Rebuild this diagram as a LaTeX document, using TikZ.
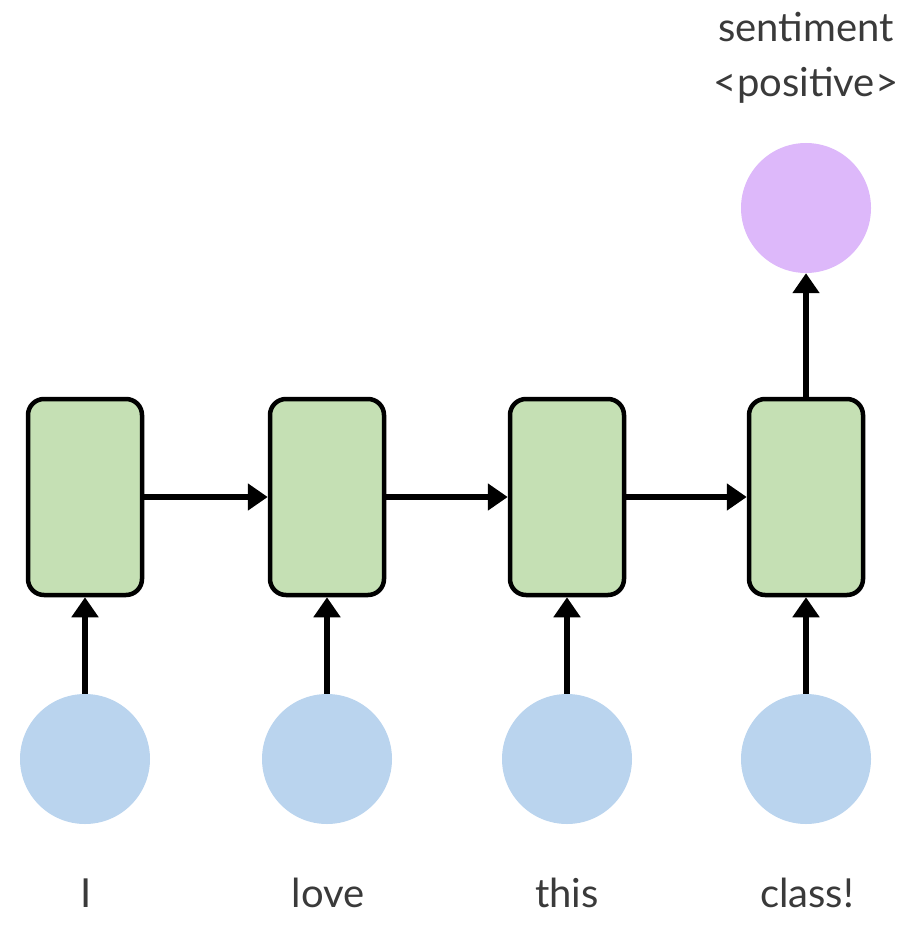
\documentclass[tikz,border=0pt]{standalone}
\usepackage{fontspec}
\setmainfont{Lato}
\usetikzlibrary{arrows.meta}
\definecolor{cellgreen}{HTML}{C5E0B4}
\definecolor{inblue}{HTML}{BAD4EE}
\definecolor{outpurple}{HTML}{DDB8FA}
\definecolor{txtgray}{HTML}{3A3A3A}
\tikzset{
  cell/.style={draw=black, line width=4.5pt, fill=cellgreen, rounded corners=16pt,
    minimum width=114pt, minimum height=196pt, inner sep=0pt},
  inp/.style={circle, fill=inblue, minimum size=130pt, inner sep=0pt},
  outp/.style={circle, fill=outpurple, minimum size=130pt, inner sep=0pt},
  conn/.style={line width=6pt, -{Triangle[length=20pt,width=26pt]}},
  word/.style={text=txtgray, font=\fontsize{40}{48}\selectfont, anchor=base, inner sep=0pt}
}
\begin{document}
\begin{tikzpicture}[x=1pt,y=-1pt]
\useasboundingbox (0,0) rectangle (920,925);
\node[cell] (c1) at (85,497) {};
\node[cell] (c2) at (327,497) {};
\node[cell] (c3) at (567,497) {};
\node[cell] (c4) at (806,497) {};
\node[inp] (i1) at (85,759) {};
\node[inp] (i2) at (327,759) {};
\node[inp] (i3) at (567,759) {};
\node[inp] (i4) at (806,759) {};
\node[outp] (o) at (806,208) {};
\node[word] (w1) at (86,907) {I};
\node[word] (w2) at (328,907) {love};
\node[word] (w3) at (567,907) {this};
\node[word] (w4) at (807,907) {class!};
\node[word] (s1) at (806,42) {sentiment};
\node[word] (s2) at (806,97) {<positive>};
\draw[conn] (c1.east) -- (c2.west);
\draw[conn] (c2.east) -- (c3.west);
\draw[conn] (c3.east) -- (c4.west);
\draw[conn] (i1.north) -- (c1.south);
\draw[conn] (i2.north) -- (c2.south);
\draw[conn] (i3.north) -- (c3.south);
\draw[conn] (i4.north) -- (c4.south);
\draw[conn] (c4.north) -- (o.south);
\end{tikzpicture}
\end{document}
